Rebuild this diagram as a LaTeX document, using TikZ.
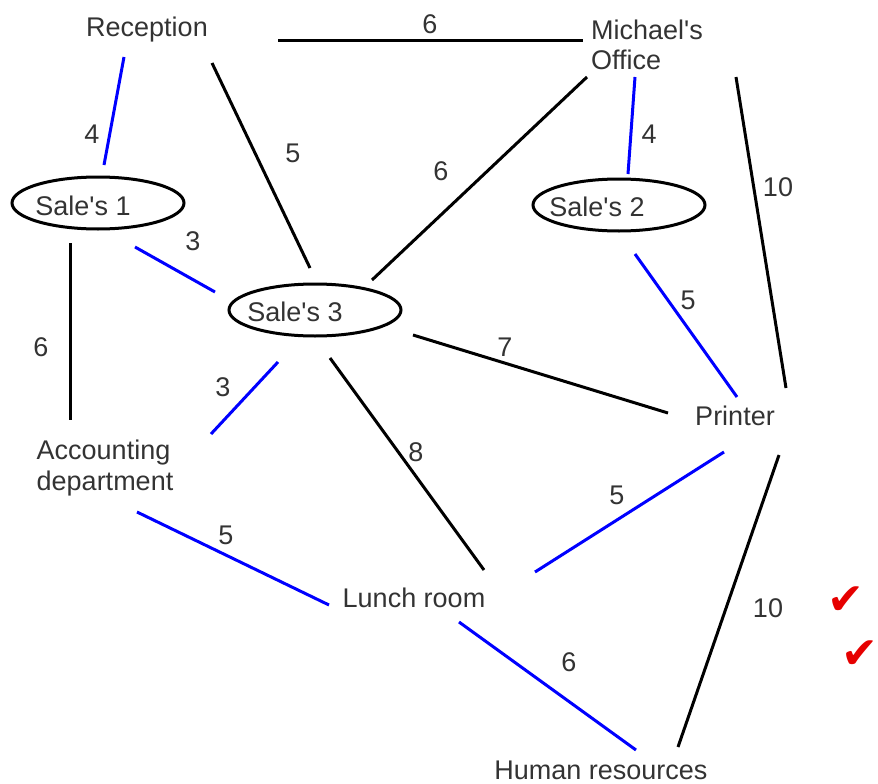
\documentclass[tikz,border=0pt]{standalone}
\usepackage{fontspec}
\setmainfont{Liberation Sans}
\newfontfamily\symfont{DejaVu Sans}
\usetikzlibrary{shapes.geometric}
\definecolor{ink}{HTML}{333333}
\definecolor{edgeblue}{RGB}{0,0,255}
\definecolor{tick}{RGB}{230,0,0}
\newcommand{\apos}{\textquotesingle}
\begin{document}
\begin{tikzpicture}[x=1pt,y=-1pt,
  every node/.style={font=\fontsize{27}{30}\selectfont, text=ink, inner sep=0pt},
  place/.style={align=left},
  room/.style={ellipse, draw=black, line width=3pt, minimum width=172pt, minimum height=52pt},
  blk/.style={draw=black, line width=3pt},
  blu/.style={draw=edgeblue, line width=3pt},
  wt/.style={},
  checkmark/.style={text=tick, font=\symfont\fontsize{44}{44}\selectfont}
]
\useasboundingbox (0,0) rectangle (878,784);

% rooms
\node[place] (rec) at (147,30) {Reception};
\node[place, font=\fontsize{27}{30}\selectfont] (mo) at (647,45) {Michael\apos s\\Office};
\node[room] (s1) at (98,203) {};
\node (s1t) at (83,206) {Sale\apos s 1};
\node[room] (s2) at (619,205) {};
\node (s2t) at (597,207) {Sale\apos s 2};
\node[room] (s3) at (315,310) {};
\node (s3t) at (295,312) {Sale\apos s 3};
\node[place, font=\fontsize{27}{31}\selectfont] (acc) at (105,468) {Accounting\\department};
\node (lunch) at (414,598) {Lunch room};
\node (prn) at (735,416) {Printer};
\node (hr) at (601,770) {Human resources};

% connector end points, set a little away from each room
\coordinate (rec-mo) at (278,41);   \coordinate (mo-rec) at (583,41);
\coordinate (rec-s1) at (124,57);   \coordinate (s1-rec) at (104,165);
\coordinate (rec-s3) at (212,63);   \coordinate (s3-rec) at (310,268);
\coordinate (mo-s3) at (587,77);    \coordinate (s3-mo) at (372,280);
\coordinate (mo-s2) at (635,77);    \coordinate (s2-mo) at (628,174);
\coordinate (mo-prn) at (736,77);   \coordinate (prn-mo) at (786,388);
\coordinate (s1-s3) at (135,247);   \coordinate (s3-s1) at (215,292);
\coordinate (s1-acc) at (70,243);   \coordinate (acc-s1) at (70,420);
\coordinate (s2-prn) at (635,254);  \coordinate (prn-s2) at (737,397);
\coordinate (s3-acc) at (278,362);  \coordinate (acc-s3) at (211,434);
\coordinate (s3-prn) at (413,335);  \coordinate (prn-s3) at (668,413);
\coordinate (s3-lunch) at (330,358);\coordinate (lunch-s3) at (484,570);
\coordinate (acc-lunch) at (137,512);\coordinate (lunch-acc) at (329,605);
\coordinate (prn-lunch) at (724,452);\coordinate (lunch-prn) at (535,572);
\coordinate (prn-hr) at (779,455);  \coordinate (hr-prn) at (678,747);
\coordinate (lunch-hr) at (459,622);\coordinate (hr-lunch) at (636,750);

% corridors
\draw[blk] (rec-mo) -- (mo-rec);
\draw[blu] (rec-s1) -- (s1-rec);
\draw[blk] (rec-s3) -- (s3-rec);
\draw[blk] (mo-s3) -- (s3-mo);
\draw[blu] (mo-s2) -- (s2-mo);
\draw[blk] (mo-prn) -- (prn-mo);
\draw[blu] (s1-s3) -- (s3-s1);
\draw[blk] (s1-acc) -- (acc-s1);
\draw[blu] (s2-prn) -- (prn-s2);
\draw[blu] (s3-acc) -- (acc-s3);
\draw[blk] (s3-prn) -- (prn-s3);
\draw[blk] (s3-lunch) -- (lunch-s3);
\draw[blu] (acc-lunch) -- (lunch-acc);
\draw[blu] (prn-lunch) -- (lunch-prn);
\draw[blk] (prn-hr) -- (hr-prn);
\draw[blu] (lunch-hr) -- (hr-lunch);

% distances
\node[wt] (w1) at (430,24) {6};
\node[wt] (w2) at (92,134) {4};
\node[wt] (w3) at (293,153) {5};
\node[wt] (w4) at (441,171) {6};
\node[wt] (w5) at (649,134) {4};
\node[wt] (w6) at (778,187) {10};
\node[wt] (w7) at (193,241) {3};
\node[wt] (w8) at (41,347) {6};
\node[wt] (w9) at (688,300) {5};
\node[wt] (w10) at (223,387) {3};
\node[wt] (w11) at (505,347) {7};
\node[wt] (w12) at (416,452) {8};
\node[wt] (w13) at (226,535) {5};
\node[wt] (w14) at (617,495) {5};
\node[wt] (w15) at (768,608) {10};
\node[wt] (w16) at (569,662) {6};

% ticks
\node[checkmark] (t1) at (846,601) {✔};
\node[checkmark] (t2) at (860,655) {✔};
\end{tikzpicture}
\end{document}
